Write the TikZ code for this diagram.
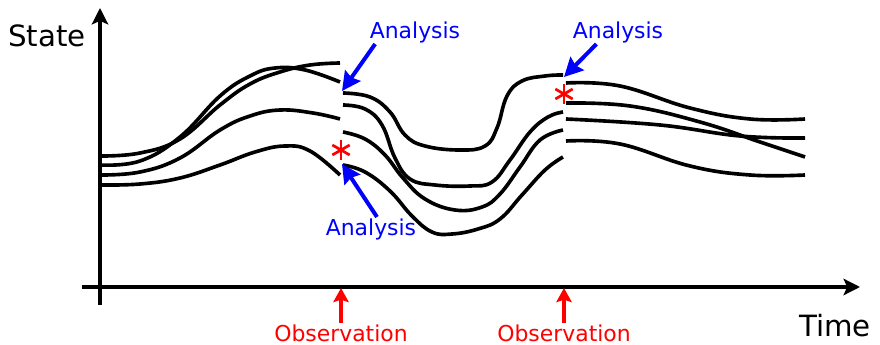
\documentclass[tikz,border=0pt]{standalone}
\usepackage{fontspec}
\setmainfont{DejaVu Sans}
\usetikzlibrary{arrows.meta}

\begin{document}
\begin{tikzpicture}[x=0.03cm, y=-0.03cm,
    member/.style={line width=3.1pt, black},
    axisline/.style={line width=2.7pt, black},
    anaarrow/.style={line width=3.4pt, anaBlue, -{Stealth[length=16pt, width=16pt, inset=2pt]}},
    obsarrow/.style={line width=2.9pt, obsRed, -{Stealth[length=12pt, width=13pt, inset=2pt]}},
    axislabel/.style={font=\fontsize{25}{28}\selectfont, inner sep=0pt},
    analabel/.style={font=\fontsize{18.7}{21}\selectfont, text=anaBlue, inner sep=1pt},
    obslabel/.style={font=\fontsize{18.7}{21}\selectfont, text=obsRed, inner sep=1pt}]
    \definecolor{anaBlue}{HTML}{0000FF}
    \definecolor{obsRed}{HTML}{FF0000}

    \useasboundingbox (0,0) rectangle (880,345);

    % Draw axes
    \coordinate (yaxisBottom) at (100,305);
    \coordinate (yaxisTop) at (100,8);
    \coordinate (xaxisLeft) at (82,287);
    \coordinate (xaxisRight) at (860,287);
    \draw[axisline,-{Stealth[length=14pt, width=14pt, inset=3pt]}] (yaxisBottom) -- (yaxisTop);
    \draw[axisline,-{Stealth[length=14pt, width=14pt, inset=3pt]}] (xaxisLeft) -- (xaxisRight);
    \node[axislabel] (state) at (47,36) {State};
    \node[axislabel] (time) at (835,326) {Time};

    % Ensemble members up to the first observation
    \draw[member] plot[smooth, tension=0.7] coordinates {(100,165) (140,161) (180,137) (220,96) (250,76) (275,68) (305,70) (340,82)};
    \draw[member] plot[smooth, tension=0.7] coordinates {(100,156) (140,153) (180,139) (220,105) (250,84) (280,72) (310,65) (340,63)};
    \draw[member] plot[smooth, tension=0.7] coordinates {(100,175) (140,172) (180,158) (220,130) (250,116) (280,110) (313,113) (340,119)};
    \draw[member] plot[smooth, tension=0.7] coordinates {(100,185) (140,184) (180,178) (220,165) (255,152) (285,146) (310,151) (340,175)};

    % Ensemble members between the two observations
    \draw[member] plot[smooth, tension=0.7] coordinates {(343,93) (370,97) (390,112) (405,135) (425,146) (460,150) (485,146) (497,128) (507,96) (522,81) (545,76) (563,75)};
    \draw[member] plot[smooth, tension=0.7] coordinates {(343,105) (365,109) (382,125) (395,158) (410,179) (435,185) (470,186) (492,182) (510,160) (530,132) (548,117) (563,112)};
    \draw[member] plot[smooth, tension=0.7] coordinates {(343,132) (365,139) (385,155) (403,178) (425,199) (455,210) (482,207) (500,194) (520,167) (540,140) (563,130)};
    \draw[member] plot[smooth, tension=0.7] coordinates {(343,165) (365,172) (390,191) (412,216) (432,232) (452,234) (478,229) (500,219) (522,195) (545,170) (563,157)};

    % Ensemble members after the second observation
    \draw[member] plot[smooth, tension=0.7] coordinates {(566,83) (620,86) (690,108) (750,119) (805,119)};
    \draw[member] plot[smooth, tension=0.7] coordinates {(566,103) (630,106) (700,122) (760,142) (805,157)};
    \draw[member] plot[smooth, tension=0.7] coordinates {(566,119) (660,125) (740,136) (805,138)};
    \draw[member] plot[smooth, tension=0.7] coordinates {(566,141) (620,144) (690,166) (750,175) (805,175)};

    % Observed values
    \coordinate (star1) at (341,150);
    \coordinate (star2) at (564,94);
    \foreach \s in {star1,star2}
        \foreach \a in {90,30,150}
            \draw[obsRed, line width=2.3pt] ([shift={(\a:10)}]\s) -- ([shift={(\a+180:10)}]\s);

    % Observations on the time axis
    \coordinate (obs1tip) at (341,288);
    \coordinate (obs2tip) at (564,288);
    \node[obslabel] (obs1) at (341,333) {Observation};
    \node[obslabel] (obs2) at (564,333) {Observation};
    \draw[obsarrow] (obs1.north) -- (obs1tip);
    \draw[obsarrow] (obs2.north) -- (obs2tip);

    % Analysis arrows
    \coordinate (ana1tip) at (342,91);
    \coordinate (ana2tip) at (342,164);
    \coordinate (ana3tip) at (564,77);
    \node[analabel] (ana1) at (415,32) {Analysis};
    \node[analabel] (ana2) at (371,229) {Analysis};
    \node[analabel] (ana3) at (618,32) {Analysis};
    \draw[anaarrow] ([xshift=0.2cm]ana1.south west) -- (ana1tip);
    \draw[anaarrow] ([xshift=0.18cm]ana2.north) -- (ana2tip);
    \draw[anaarrow] ([xshift=0.75cm]ana3.south west) -- (ana3tip);

\end{tikzpicture}
\end{document}
